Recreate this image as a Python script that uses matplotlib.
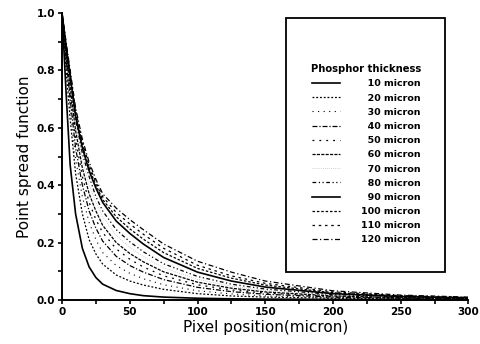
import matplotlib
matplotlib.use('Agg')
import matplotlib.pyplot as plt
from matplotlib.patches import Rectangle
from matplotlib.ticker import MultipleLocator

# sample positions along the pixel axis (micron)
pixel_pos = [0, 3, 6, 10, 15, 20, 25, 30, 40, 50, 60, 75, 100, 125, 150, 200, 250, 300]

psf_10 = [1.0, 0.72, 0.47, 0.30, 0.18, 0.115, 0.078, 0.055, 0.033, 0.022, 0.015, 0.010, 0.006, 0.004, 0.003, 0.002, 0.001, 0.0]
psf_20 = [1.0, 0.80, 0.63, 0.44, 0.30, 0.21, 0.16, 0.125, 0.087, 0.066, 0.052, 0.037, 0.022, 0.014, 0.010, 0.006, 0.004, 0.002]
psf_30 = [1.0, 0.82, 0.67, 0.49, 0.36, 0.27, 0.21, 0.165, 0.12, 0.093, 0.074, 0.053, 0.032, 0.021, 0.014, 0.008, 0.005, 0.003]
psf_40 = [1.0, 0.84, 0.70, 0.53, 0.40, 0.31, 0.25, 0.205, 0.152, 0.12, 0.097, 0.071, 0.044, 0.029, 0.020, 0.010, 0.006, 0.004]
psf_50 = [1.0, 0.85, 0.72, 0.56, 0.43, 0.34, 0.28, 0.235, 0.178, 0.142, 0.115, 0.084, 0.053, 0.035, 0.024, 0.012, 0.007, 0.004]
psf_60 = [1.0, 0.86, 0.74, 0.59, 0.46, 0.37, 0.31, 0.26, 0.20, 0.162, 0.133, 0.098, 0.062, 0.041, 0.028, 0.014, 0.008, 0.005]
psf_70 = [1.0, 0.87, 0.76, 0.61, 0.49, 0.40, 0.34, 0.29, 0.225, 0.183, 0.151, 0.112, 0.072, 0.048, 0.033, 0.016, 0.009, 0.005]
psf_80 = [1.0, 0.88, 0.77, 0.63, 0.51, 0.43, 0.36, 0.31, 0.245, 0.203, 0.168, 0.126, 0.082, 0.055, 0.038, 0.019, 0.011, 0.006]
psf_90 = [1.0, 0.88, 0.78, 0.64, 0.53, 0.45, 0.39, 0.34, 0.275, 0.232, 0.195, 0.148, 0.097, 0.066, 0.045, 0.022, 0.012, 0.007]
psf_100 = [1.0, 0.89, 0.79, 0.65, 0.54, 0.46, 0.40, 0.35, 0.29, 0.248, 0.212, 0.165, 0.11, 0.076, 0.052, 0.025, 0.014, 0.008]
psf_110 = [1.0, 0.89, 0.79, 0.66, 0.55, 0.47, 0.41, 0.36, 0.305, 0.265, 0.229, 0.18, 0.121, 0.084, 0.058, 0.028, 0.015, 0.009]
psf_120 = [1.0, 0.90, 0.80, 0.67, 0.56, 0.48, 0.42, 0.37, 0.32, 0.28, 0.245, 0.195, 0.135, 0.097, 0.066, 0.032, 0.017, 0.010]

thickness_labels = ['10 micron', '20 micron', '30 micron', '40 micron', '50 micron', '60 micron',
                    '70 micron', '80 micron', '90 micron', '100 micron', '110 micron', '120 micron']
series = [psf_10, psf_20, psf_30, psf_40, psf_50, psf_60,
          psf_70, psf_80, psf_90, psf_100, psf_110, psf_120]

# line styles roughly following the scanned figure
styles = [
    ('-', 1.2, 1.0),
    ((0, (1.5, 1.5)), 0.9, 1.0),
    ((0, (1, 4)), 0.8, 1.0),
    ((0, (4, 1.5, 1, 1.5)), 0.9, 1.0),
    ((0, (1.5, 4)), 0.9, 1.0),
    ((0, (2.5, 1)), 0.9, 1.0),
    ((0, (1, 2)), 0.5, 0.35),
    ((0, (3, 2, 1, 2, 1, 2)), 0.9, 1.0),
    ('-', 1.2, 1.0),
    ((0, (2, 1.5)), 0.9, 1.0),
    ((0, (2, 3)), 0.9, 1.0),
    ((0, (4, 2, 1, 2)), 0.9, 1.0),
]

fig = plt.figure(figsize=(4.81, 3.44), dpi=100)
ax = fig.add_axes([0.129, 0.128, 0.845, 0.834])

for vals, lab, (ls, lw, a) in zip(series, thickness_labels, styles):
    # figure space pads the two-digit labels so they line up on the right
    shown = lab if len(lab) > 9 else '\u2007' + lab
    ax.plot(pixel_pos, vals, color='black', linestyle=ls, linewidth=lw, alpha=a, label=shown)

ax.set_xlim(0, 300)
ax.set_ylim(0, 1.0)
ax.xaxis.set_major_locator(MultipleLocator(50))
ax.xaxis.set_minor_locator(MultipleLocator(25))
ax.yaxis.set_minor_locator(MultipleLocator(0.1))
ax.set_yticks([0, 0.2, 0.4, 0.6, 0.8, 1.0])
ax.set_yticklabels(['0.0', '0.2', '0.4', '0.6', '0.8', '1.0'])
ax.tick_params(which='both', direction='out', length=3, width=1.2, labelsize=7.5, pad=2)
for lbl in ax.get_xticklabels() + ax.get_yticklabels():
    lbl.set_fontweight('bold')

ax.spines['top'].set_visible(False)
ax.spines['right'].set_visible(False)
ax.spines['left'].set_linewidth(1.4)
ax.spines['bottom'].set_linewidth(1.4)

ax.set_xlabel('Pixel position(micron)', fontsize=11, labelpad=2)
ax.set_ylabel('Point spread function', fontsize=11, labelpad=3)

# legend frame (tall box with empty space on top)
ax.add_patch(Rectangle((0.551, 0.098), 0.39, 0.885, transform=ax.transAxes,
                       fill=False, edgecolor='black', linewidth=1.3, zorder=5))

leg = ax.legend(loc='upper center', bbox_to_anchor=(0.748, 0.845), frameon=False,
                title='Phosphor thickness', fontsize=6.8, handlelength=3.0,
                labelspacing=0.55, handletextpad=2.2, borderpad=0.2)
leg.get_title().set_fontsize(7.2)
leg.get_title().set_fontweight('bold')
for t in leg.get_texts():
    t.set_fontweight('bold')

fig.savefig('out.png', dpi=100)
